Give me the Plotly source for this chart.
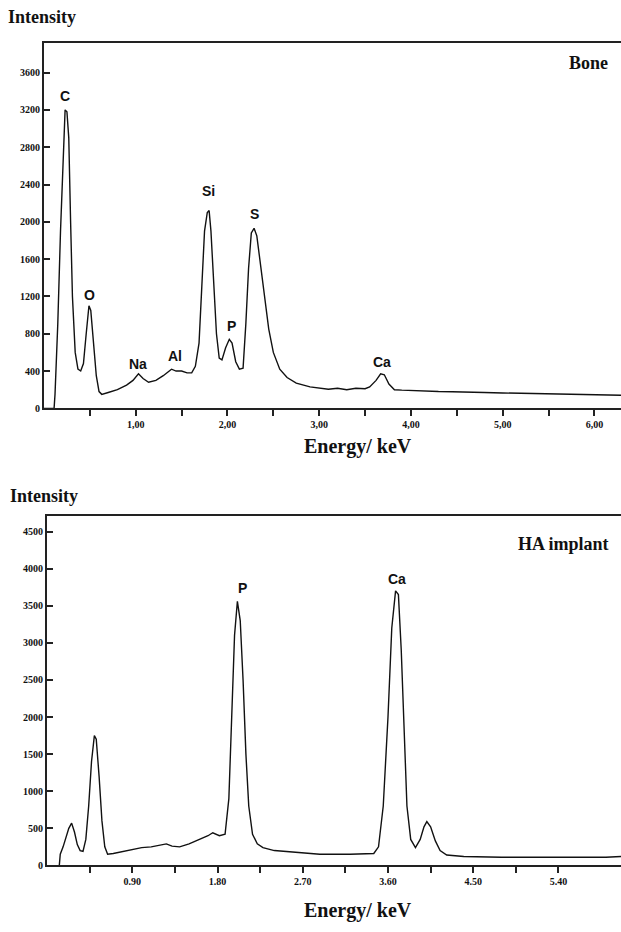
import plotly.graph_objects as go

# ---- Bone spectrum (keV, counts) ----
bone_energy = [0.00, 0.11, 0.12, 0.15, 0.18, 0.21, 0.23, 0.25, 0.27, 0.29, 0.31, 0.34, 0.37, 0.40,
               0.43, 0.46, 0.49, 0.51, 0.54, 0.57, 0.60, 0.63, 0.70, 0.80, 0.90, 0.97, 1.03, 1.08,
               1.14, 1.22, 1.30, 1.36, 1.39, 1.44, 1.50, 1.56, 1.61, 1.65, 1.69, 1.72, 1.75, 1.78,
               1.80, 1.82, 1.85, 1.88, 1.91, 1.94, 1.98, 2.02, 2.05, 2.09, 2.13, 2.17, 2.20, 2.23,
               2.26, 2.29, 2.32, 2.36, 2.40, 2.45, 2.50, 2.57, 2.65, 2.75, 2.90, 3.00, 3.10, 3.20,
               3.30, 3.40, 3.50, 3.55, 3.62, 3.67, 3.71, 3.76, 3.82, 3.90, 4.00, 4.15, 4.30, 4.45,
               4.60, 4.80, 5.00, 5.20, 5.40, 5.60, 5.80, 6.00, 6.29]
bone_counts = [0, 0, 150, 900, 1900, 2700, 3200, 3180, 2900, 2000, 1200, 600, 420, 400,
               480, 800, 1100, 1050, 700, 350, 180, 150, 170, 200, 250, 300, 370, 320,
               280, 300, 350, 400, 420, 400, 400, 380, 380, 450, 700, 1300, 1900, 2100,
               2120, 1900, 1300, 800, 540, 520, 650, 740, 700, 500, 420, 430, 900, 1500,
               1880, 1930, 1850, 1550, 1200, 850, 600, 420, 330, 270, 230, 215, 205, 215,
               200, 215, 210, 230, 300, 370, 360, 260, 200, 195, 190, 185, 180, 178,
               172, 170, 165, 160, 160, 152, 150, 145, 140]

# ---- HA implant spectrum (keV, counts) ----
ha_energy = [0.13, 0.14, 0.17, 0.20, 0.23, 0.26, 0.29, 0.32, 0.35, 0.38, 0.41, 0.44, 0.47, 0.50,
             0.52, 0.55, 0.58, 0.61, 0.64, 0.70, 0.80, 0.90, 1.00, 1.10, 1.20, 1.26, 1.32, 1.40,
             1.50, 1.60, 1.70, 1.75, 1.82, 1.88, 1.92, 1.95, 1.98, 2.01, 2.04, 2.07, 2.10, 2.13,
             2.17, 2.22, 2.28, 2.40, 2.60, 2.88, 3.20, 3.45, 3.50, 3.55, 3.60, 3.64, 3.68, 3.71,
             3.74, 3.77, 3.80, 3.84, 3.89, 3.94, 3.98, 4.01, 4.05, 4.10, 4.15, 4.22, 4.40, 4.80,
             5.20, 5.60, 5.90, 6.06]
ha_counts = [0, 150, 250, 380, 500, 570, 450, 280, 200, 190, 350, 800, 1400, 1750,
             1700, 1200, 600, 250, 150, 160, 190, 220, 240, 250, 270, 290, 260, 250,
             290, 340, 400, 440, 400, 420, 900, 2000, 3100, 3560, 3300, 2500, 1500, 800,
             420, 290, 240, 200, 180, 150, 150, 160, 250, 800, 2000, 3200, 3700, 3650,
             2900, 1800, 800, 350, 240, 350, 520, 590, 520, 330, 200, 140, 120, 110,
             110, 105, 110, 120]

# ---- Axis ticks ----
bone_xtick_vals = [0.5, 1.0, 1.5, 2.0, 2.5, 3.0, 3.5, 4.0, 4.5, 5.0, 5.5, 6.0]
bone_xtick_text = ["", "1,00", "", "2,00", "", "3,00", "", "4,00", "", "5,00", "", "6,00"]
bone_ytick_vals = [0, 400, 800, 1200, 1600, 2000, 2400, 2800, 3200, 3600]
ha_xtick_vals = [0.45, 0.90, 1.35, 1.80, 2.25, 2.70, 3.15, 3.60, 4.05, 4.50, 4.95, 5.40]
ha_xtick_text = ["", "0.90", "", "1.80", "", "2.70", "", "3.60", "", "4.50", "", "5.40"]
ha_ytick_vals = [0, 500, 1000, 1500, 2000, 2500, 3000, 3500, 4000, 4500]

# ---- Peak labels ----
bone_peak_names = ["C", "O", "Na", "Al", "Si", "P", "S", "Ca"]
bone_peak_x = [0.23, 0.50, 1.03, 1.43, 1.79, 2.04, 2.29, 3.68]
bone_peak_y = [3344, 1214, 480, 565, 2332, 884, 2087, 500]
ha_peak_names = ["P", "Ca"]
ha_peak_x = [2.06, 3.69]
ha_peak_y = [3736, 3857]

W, H = 621, 932
SERIF = "Liberation Serif, Times New Roman, serif"
SANS = "Liberation Sans, Arial, sans-serif"

fig = go.Figure()
fig.add_trace(go.Scatter(x=bone_energy, y=bone_counts, mode="lines",
                         line=dict(color="#111", width=1.4), xaxis="x", yaxis="y",
                         showlegend=False, hoverinfo="skip"))
fig.add_trace(go.Scatter(x=ha_energy, y=ha_counts, mode="lines",
                         line=dict(color="#111", width=1.4), xaxis="x2", yaxis="y2",
                         showlegend=False, hoverinfo="skip"))

tickfont = dict(family=SERIF, size=10, color="#111", weight="bold")
common_x = dict(showgrid=False, zeroline=False, showline=True, linecolor="#222", linewidth=2,
                mirror=True, ticks="outside", ticklen=6, tickcolor="#222", tickwidth=1.5,
                tickfont=tickfont, tickmode="array")
common_y = dict(showgrid=False, zeroline=False, showline=True, linecolor="#222", linewidth=2,
                mirror=False, ticks="inside", ticklen=6, tickcolor="#222", tickwidth=1.5,
                tickfont=tickfont, tickmode="array")

fig.update_layout(
    width=W, height=H, margin=dict(l=0, r=0, t=0, b=0),
    plot_bgcolor="white", paper_bgcolor="white",
    xaxis=dict(common_x, domain=[44 / W, 1.0], range=[0, 6.29], anchor="y",
               tickvals=bone_xtick_vals, ticktext=bone_xtick_text),
    yaxis=dict(common_y, domain=[1 - 411 / H, 1 - 43 / H], range=[0, 3920], anchor="x",
               tickvals=bone_ytick_vals, ticktext=[str(v) for v in bone_ytick_vals]),
    xaxis2=dict(common_x, domain=[47 / W, 1.0], range=[0, 6.06], anchor="y2",
                tickvals=ha_xtick_vals, ticktext=ha_xtick_text),
    yaxis2=dict(common_y, domain=[1 - 871 / H, 1 - 519 / H], range=[0, 4714], anchor="x2",
                tickvals=ha_ytick_vals, ticktext=[str(v) for v in ha_ytick_vals]),
)

ann = []
for n, x, y in zip(bone_peak_names, bone_peak_x, bone_peak_y):
    ann.append(dict(text=n, x=x, y=y, xref="x", yref="y", showarrow=False,
                    font=dict(family=SANS, size=14, color="#111", weight="bold")))
for n, x, y in zip(ha_peak_names, ha_peak_x, ha_peak_y):
    ann.append(dict(text=n, x=x, y=y, xref="x2", yref="y2", showarrow=False,
                    font=dict(family=SANS, size=14, color="#111", weight="bold")))

tfont = dict(family=SERIF, size=18, color="#111", weight="bold")
afont = dict(family=SERIF, size=20, color="#111", weight="bold")
ann += [
    dict(text="Intensity", x=6 / W, y=1 - 17 / H, xref="paper", yref="paper",
         xanchor="left", yanchor="middle", showarrow=False, font=tfont),
    dict(text="Intensity", x=8 / W, y=1 - 499 / H, xref="paper", yref="paper",
         xanchor="left", yanchor="middle", showarrow=False, font=tfont),
    dict(text="Bone", x=610 / W, y=1 - 63 / H, xref="paper", yref="paper",
         xanchor="right", yanchor="middle", showarrow=False, font=tfont),
    dict(text="HA implant", x=611 / W, y=1 - 548 / H, xref="paper", yref="paper",
         xanchor="right", yanchor="middle", showarrow=False, font=tfont),
    dict(text="Energy/ keV", x=302 / W, y=1 - 449 / H, xref="paper", yref="paper",
         xanchor="left", yanchor="middle", showarrow=False, font=afont),
    dict(text="Energy/ keV", x=302 / W, y=1 - 916 / H, xref="paper", yref="paper",
         xanchor="left", yanchor="middle", showarrow=False, font=afont),
]
fig.update_layout(annotations=ann)

fig.write_html("out.html", config={"displayModeBar": False},
               post_script="document.body.style.margin='0';document.body.style.overflow='hidden';")
